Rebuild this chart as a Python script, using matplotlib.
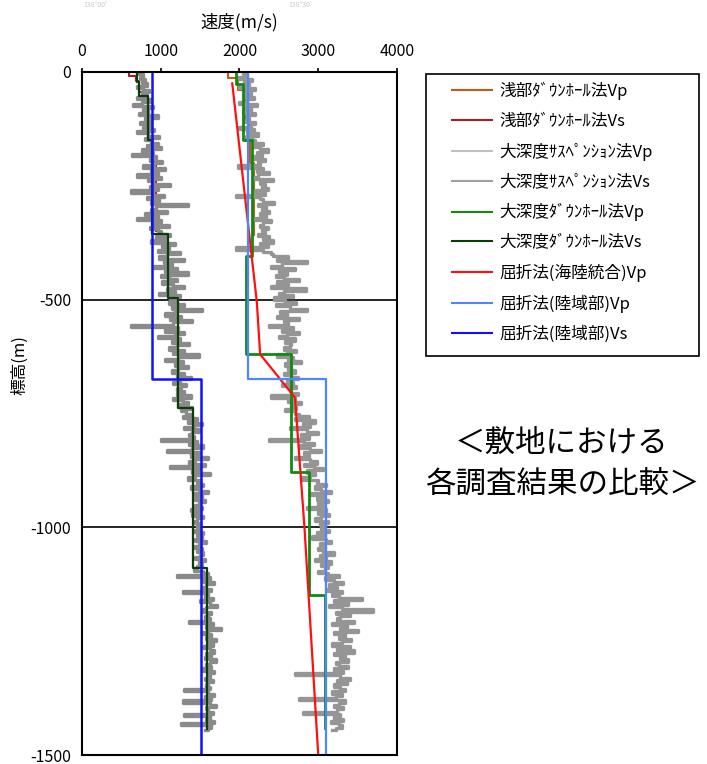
import numpy as np
import matplotlib.pyplot as plt
from matplotlib.patches import Rectangle

plt.rcParams['font.family'] = ['Noto Sans CJK JP', 'DejaVu Sans']
plt.rcParams['axes.unicode_minus'] = False

# 大深度サスペンション法 (標高0mから5m間隔)
susp_step = 5
susp_vp = [
    2040, 2100, 1980, 2160, 2060, 2120, 2000, 2200, 2080, 2140,
    2060, 2180, 2100, 2000, 2220, 2080, 2140, 2040, 2200, 2100,
    2120, 2060, 2200, 2140, 2000, 2180, 2100, 2240, 2080, 2160,
    2200, 2300, 2180, 2260, 2360, 2220, 2280, 2160, 2320, 2240,
    2260, 1980, 2300, 2220, 2380, 2240, 2180, 2420, 2260, 2320,
    2280, 2360, 2200, 2320, 1960, 2260, 2300, 2440, 2240, 2340,
    2280, 2380, 2260, 2340, 2200, 2400, 2300, 2260, 2360, 2280,
    2320, 2240, 2380, 2300, 2420, 2260, 2360, 1950, 2300, 2400,
    2420, 2620, 2480, 2860, 2540, 2400, 2700, 2500, 2600, 2460,
    2560, 2760, 2480, 2620, 2400, 2840, 2560, 2500, 2680, 2440,
    2580, 2720, 2460, 2640, 2860, 2520, 2600, 2480, 2760, 2560,
    2620, 2380, 2680, 2540, 2760, 2600, 2500, 2700, 2580, 2660,
    2640, 2560, 2720, 2600, 2480, 2680, 2620, 2780, 2580, 2660,
    2620, 2700, 2560, 2660, 2740, 2600, 2680, 2540, 2720, 2640,
    2660, 2740, 2400, 2700, 2620, 2780, 2660, 2720, 2580, 2700,
    2760, 2880, 2700, 2960, 2800, 2900, 2640, 2860, 3000, 2780,
    2880, 2380, 2820, 2940, 2760, 2900, 3040, 2820, 2880, 2700,
    2900, 2980, 2820, 2940, 3060, 2860, 2960, 2900, 2780, 3000,
    2980, 3100, 2960, 3040, 3160, 2900, 3060, 2980, 3120, 3000,
    3060, 2860, 3100, 3000, 3140, 3040, 2960, 3120, 3020, 3080,
    3040, 3140, 2980, 3080, 2920, 3100, 3160, 3020, 3080, 3000,
    3060, 3200, 3020, 3100, 2960, 3160, 3040, 3120, 3080, 3000,
    3120, 3260, 3080, 3200, 3320, 3140, 3240, 3100, 3300, 3180,
    3260, 3560, 3200, 3380, 3140, 3300, 3700, 3220, 3400, 3280,
    3240, 3460, 3180, 3360, 3280, 3500, 3200, 3340, 3260, 3420,
    3300, 3180, 3400, 3240, 3460, 3200, 3340, 3280, 3380, 3220,
    3260, 3380, 3200, 3320, 2700, 3280, 3400, 3240, 3360, 3200,
    3280, 3340, 3180, 3300, 3220, 2760, 3340, 3260, 3200, 3320,
    3240, 2800, 3280, 3200, 3320, 3160, 3260, 3300, 3220, 3180,
]
susp_vs = [
    720, 780, 740, 800, 760, 830, 700, 780, 850, 760,
    820, 700, 880, 760, 650, 900, 780, 840, 720, 960,
    800, 880, 740, 860, 780, 920, 700, 840, 980, 800,
    880, 960, 820, 1000, 760, 900, 640, 940, 860, 1020,
    920, 780, 1060, 880, 960, 700, 1000, 840, 900, 1120,
    860, 960, 620, 900, 1040, 820, 980, 880, 1340, 940,
    880, 1080, 800, 960, 700, 1000, 900, 1100, 860, 960,
    1000, 1120, 940, 1060, 880, 1180, 1020, 1100, 960, 1240,
    1080, 980, 1300, 1040, 1140, 900, 1200, 1060, 1340, 1000,
    1100, 1200, 1020, 1160, 1300, 1080, 1180, 980, 1240, 1120,
    1200, 1100, 1300, 1140, 1520, 1180, 1060, 1260, 1120, 1400,
    1160, 620, 1220, 1060, 1300, 1180, 960, 1240, 1140, 1360,
    1200, 1100, 1300, 1160, 1480, 1220, 1060, 1280, 1180, 1340,
    1220, 1140, 1300, 1200, 1380, 1240, 1160, 1320, 1260, 1200,
    1300, 1200, 1380, 1160, 1280, 1340, 1220, 1400, 1260, 1320,
    1380, 1280, 1460, 1340, 1520, 1420, 1300, 1480, 1400, 1360,
    1420, 1000, 1460, 1360, 1540, 1400, 1080, 1480, 1380, 1600,
    1440, 1360, 1560, 1120, 1480, 1400, 1620, 1440, 1340, 1500,
    1460, 1540, 1380, 1480, 1600, 1420, 1520, 1440, 1560, 1480,
    1440, 1520, 1380, 1480, 1400, 1540, 1460, 1420, 1500, 1460,
    1500, 1420, 1540, 1460, 1520, 1440, 1580, 1480, 1420, 1520,
    1460, 1540, 1500, 1440, 1560, 1480, 1520, 1460, 1420, 1540,
    1600, 1200, 1620, 1540, 1680, 1580, 1520, 1640, 1280, 1600,
    1560, 1660, 1500, 1620, 1720, 1580, 1540, 1640, 1600, 1560,
    1620, 1360, 1660, 1580, 1760, 1600, 1520, 1640, 1580, 1700,
    1600, 1660, 1540, 1620, 1680, 1580, 1640, 1560, 1700, 1620,
    1580, 1640, 1540, 1680, 1600, 1620, 1560, 1660, 1600, 1580,
    1620, 1300, 1600, 1680, 1560, 1640, 1280, 1620, 1700, 1580,
    1600, 1660, 1300, 1620, 1580, 1680, 1260, 1640, 1600, 1560,
]

# 浅部ダウンホール法 (層境界の標高と層速度)
shallow_vp_z = [0, -13, -40, -100, -200, -357]
shallow_vp = [1850, 1980, 2070, 2135, 2178]
shallow_vs_z = [0, -9, -20, -45, -80, -150, -200, -350]
shallow_vs = [598, 680, 730, 776, 850, 905, 945]

# 大深度ダウンホール法
deep_vp_z = [0, -27, -149, -405, -620, -878, -1149, -1440]
deep_vp = [1960, 2050, 2155, 2080, 2651, 2880, 3080]
deep_vs_z = [0, -21, -53, -149, -355, -496, -737, -1090, -1443]
deep_vs = [700, 725, 832, 893, 1094, 1221, 1415, 1582]

# 屈折法(海陸統合)
refr_z = [-25, -505, -620, -715, -1000, -1500]
refr_vp = [1908, 2220, 2262, 2705, 2825, 3000]

# 屈折法(陸域部)
land_z = [0, -674, -1500]
land_vp = [2104, 3100]
land_vs = [891, 1510]


def steps(z, v):
    x = np.repeat(v, 2)
    y = np.column_stack([z[:-1], z[1:]]).ravel()
    return x, y


susp_z = -np.arange(len(susp_vp)) * susp_step

fig = plt.figure(figsize=(7.07, 7.64), dpi=100)
ax = fig.add_axes([82 / 707, 1 - 755 / 764, 315 / 707, 683 / 764])

lines = []
x, y = steps(shallow_vp_z, shallow_vp)
lines += ax.plot(x, y, color='#c55a11', lw=1.5)
x, y = steps(shallow_vs_z, shallow_vs)
lines += ax.plot(x, y, color='#a52020', lw=1.5)
lines += ax.plot(susp_vp, susp_z, color='#959595', lw=2.4, drawstyle='steps-pre')
lines += ax.plot(susp_vs, susp_z, color='#8a8a8a', lw=2.4, drawstyle='steps-pre')
x, y = steps(deep_vp_z, deep_vp)
lines += ax.plot(x, y, color='#128a12', lw=2)
x, y = steps(deep_vs_z, deep_vs)
lines += ax.plot(x, y, color='#0b3d0b', lw=1.6)
lines += ax.plot(refr_vp, refr_z, color='#ff1010', lw=1.6)
x, y = steps(land_z, land_vp)
lines += ax.plot(x, y, color='#4d86ff', lw=1.6)
x, y = steps(land_z, land_vs)
lines += ax.plot(x, y, color='#1010ff', lw=1.8)

ax.set_xlim(0, 4000)
ax.set_ylim(-1500, 0)
ax.xaxis.tick_top()
ax.set_xticks([0, 1000, 2000, 3000, 4000])
ax.set_yticks([-1500, -1000, -500, 0])
ax.tick_params(axis='x', labelsize=11.5, length=3, width=1.2, pad=6)
ax.tick_params(axis='y', labelsize=11.5, length=0, pad=8)
ax.grid(axis='y', color='black', lw=1.2)
ax.set_axisbelow(True)
for s in ax.spines.values():
    s.set_linewidth(1.5)

fig.text(239.5 / 707, 1 - 22 / 764, '速度(m/s)', ha='center', va='center', fontsize=12.5)
fig.text(20 / 707, 1 - 365 / 764, '標高(m)', ha='center', va='center', rotation=90, fontsize=12)

# 地図の切れ端
fig.text(95 / 707, 1 - 5 / 764, "138°00'", ha='center', va='center', fontsize=5, color='#c8c8c8')
fig.text(300 / 707, 1 - 5 / 764, "138°30'", ha='center', va='center', fontsize=5, color='#c8c8c8')

labels = ['浅部ﾀﾞｳﾝﾎｰﾙ法Vp', '浅部ﾀﾞｳﾝﾎｰﾙ法Vs', '大深度ｻｽﾍﾟﾝｼｮﾝ法Vp', '大深度ｻｽﾍﾟﾝｼｮﾝ法Vs',
          '大深度ﾀﾞｳﾝﾎｰﾙ法Vp', '大深度ﾀﾞｳﾝﾎｰﾙ法Vs', '屈折法(海陸統合)Vp', '屈折法(陸域部)Vp',
          '屈折法(陸域部)Vs']
fig.add_artist(Rectangle((426 / 707, 1 - 356 / 764), 273 / 707, 282 / 764,
                         transform=fig.transFigure, fill=False, edgecolor='black', lw=1.2))
leg = fig.legend(lines, labels, loc='upper left', bbox_to_anchor=(452 / 707, 1 - 82 / 764),
                 frameon=False, fontsize=12, handlelength=2.4, handletextpad=0.42,
                 labelspacing=0.765, borderpad=0, borderaxespad=0)
for h in leg.legend_handles:
    h.set_linewidth(1.5)
    h.set_drawstyle('default')
leg.legend_handles[2].set_color('#c0c0c0')
leg.legend_handles[3].set_color('#a0a0a0')

fig.text(562 / 707, 1 - 464 / 764, '＜敷地における\n各調査結果の比較＞', ha='center', va='center',
         fontsize=22, linespacing=1.4)

fig.savefig('out.png', dpi=100)
